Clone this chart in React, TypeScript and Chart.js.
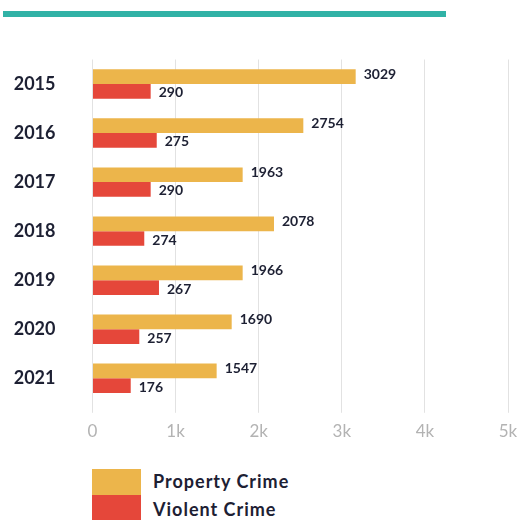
import React, { useEffect, useRef } from "react";
import { Chart, registerables } from "chart.js";

Chart.register(...registerables);

const years = ["2015", "2016", "2017", "2018", "2019", "2020", "2021"];
// Printed value labels
const propertyLabels = ["3029", "2754", "1963", "2078", "1966", "1690", "1547"];
const violentLabels = ["290", "275", "290", "274", "267", "257", "176"];
// Bar lengths as drawn in the picture (axis units)
const propertyBars = [3167, 2537, 1807, 2184, 1807, 1675, 1494];
const violentBars = [700, 773, 700, 623, 800, 563, 460];
const xTicks = [0, 1000, 2000, 3000, 4000, 5000];
const xTickLabels = ["0", "1k", "2k", "3k", "4k", "5k"];
const seriesNames = ["Property Crime", "Violent Crime"];

const ORANGE = "#ecb54b";
const RED = "#e5473a";
const NAVY = "#1d2033";
const TEAL = "#31b2a6";
const FONT = "Lato, 'DejaVu Sans', sans-serif";

const valueLabelPlugin = {
  id: "valueLabels",
  afterDatasetsDraw(chart: any) {
    const ctx = chart.ctx;
    ctx.save();
    ctx.font = `bold 14px ${FONT}`;
    ctx.fillStyle = NAVY;
    ctx.textAlign = "left";
    ctx.textBaseline = "middle";
    const labelSets = [propertyLabels, violentLabels];
    const yOffsets = [-2, 1.5];
    chart.data.datasets.forEach((_ds: any, di: number) => {
      const meta = chart.getDatasetMeta(di);
      meta.data.forEach((bar: any, i: number) => {
        ctx.fillText(labelSets[di][i], bar.x + 8, bar.y + yOffsets[di]);
      });
    });
    ctx.restore();
  },
};

export default function App() {
  const canvasRef = useRef<HTMLCanvasElement>(null);

  useEffect(() => {
    if (!canvasRef.current) return;
    const chart = new Chart(canvasRef.current, {
      type: "bar",
      data: {
        labels: years,
        datasets: [
          {
            label: seriesNames[0],
            data: propertyBars,
            backgroundColor: ORANGE,
            categoryPercentage: 0.6,
            barPercentage: 1,
          },
          {
            label: seriesNames[1],
            data: violentBars,
            backgroundColor: RED,
            categoryPercentage: 0.6,
            barPercentage: 1,
          },
        ],
      },
      options: {
        indexAxis: "y",
        animation: false,
        responsive: false,
        maintainAspectRatio: false,
        layout: { padding: { top: 9.5, right: 10, left: 0, bottom: 0 } },
        plugins: {
          legend: { display: false },
          tooltip: { enabled: false },
        },
        scales: {
          x: {
            min: 0,
            max: 5000,
            afterBuildTicks: (scale: any) => {
              scale.ticks = xTicks.map((v) => ({ value: v }));
            },
            afterFit: (scale: any) => {
              scale.height = 47.2;
              scale.paddingLeft = 0;
              scale.paddingRight = 0;
            },
            ticks: {
              color: "#b3b3b3",
              font: { family: FONT, size: 17 },
              padding: 9,
              callback: (v: any) => xTickLabels[xTicks.indexOf(Number(v))],
            },
            grid: {
              color: "#e2e2e2",
              lineWidth: 1,
              drawTicks: true,
              tickLength: 10,
            },
            border: { display: false },
          },
          y: {
            afterFit: (scale: any) => {
              scale.width = 92.5;
              scale.paddingTop = 0;
              scale.paddingBottom = 0;
            },
            ticks: {
              color: NAVY,
              font: { family: FONT, size: 18, weight: "bold" },
              padding: 37,
            },
            grid: { display: false, drawTicks: false },
            border: { display: false },
          },
        },
      },
      plugins: [valueLabelPlugin],
    });
    return () => chart.destroy();
  }, []);

  const legendText: React.CSSProperties = {
    position: "absolute",
    left: 153,
    height: 26,
    display: "flex",
    alignItems: "center",
    fontFamily: FONT,
    fontWeight: "bold",
    fontSize: 18,
    letterSpacing: 1,
    color: NAVY,
    whiteSpace: "nowrap",
  };

  return (
    <div
      style={{
        position: "absolute",
        left: 0,
        top: 0,
        width: 518,
        height: 520,
        overflow: "hidden",
        background: "#ffffff",
      }}
    >
      <div
        style={{
          position: "absolute",
          left: 3,
          top: 11,
          width: 443,
          height: 6,
          background: TEAL,
        }}
      />
      <canvas
        ref={canvasRef}
        width={518}
        height={400}
        style={{ position: "absolute", left: 0, top: 50, width: 518, height: 400 }}
      />
      <div style={{ position: "absolute", left: 92, top: 469, width: 49, height: 26, background: ORANGE }} />
      <div style={{ position: "absolute", left: 92, top: 495, width: 49, height: 25, background: RED }} />
      <div style={{ ...legendText, top: 468 }}>{seriesNames[0]}</div>
      <div style={{ ...legendText, top: 496 }}>{seriesNames[1]}</div>
    </div>
  );
}
